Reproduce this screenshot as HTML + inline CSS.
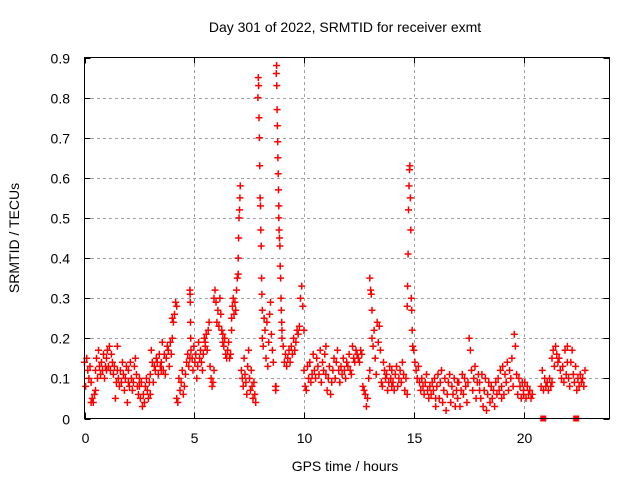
<!DOCTYPE html>
<html><head><meta charset="utf-8"><style>
html,body{margin:0;padding:0;background:#fff}
svg{display:block;font-family:"Liberation Sans",sans-serif}
</style></head><body>
<svg id="chart" width="640" height="480" viewBox="0 0 640 480">
<rect width="640" height="480" fill="#fff"/>
<text x="345" y="32" font-size="14" text-anchor="middle">Day 301 of 2022, SRMTID for receiver exmt</text>
<text transform="translate(19,238) rotate(-90)" font-size="14" text-anchor="middle">SRMTID / TECUs</text>
<text x="345" y="471" font-size="14" text-anchor="middle">GPS time / hours</text>
<g id="grid"></g>
<g id="ticks"></g>
<g id="marks"></g>
<rect x="84.5" y="57.5" width="525" height="361" fill="none" stroke="#000" stroke-width="1"/>
</svg>
<script>
const xTicks=[0,5,10,15,20];
const yTicks=[0,0.1,0.2,0.3,0.4,0.5,0.6,0.7,0.8,0.9];
const yTickLabels=["0","0.1","0.2","0.3","0.4","0.5","0.6","0.7","0.8","0.9"];
const segStarts=[0,0.3,0.5,1.0,1.5,2.0,2.5,3.0,3.5,4.0,4.2,4.5,4.8,4.9,5.5,5.9,6.3,6.7,7.0,7.15,7.9,8.1,8.7,8.85,9.0,10,11,12,13,13.1,14,14.7,15,16,17,18,19,20,20.8,21.3,22.0];
const segEnds=[0.3,0.5,1.0,1.5,2.0,2.5,3.0,3.5,4.0,4.2,4.5,4.8,4.85,5.5,5.9,6.3,6.7,7.0,7.1,7.8,8.1,8.6,8.85,9.0,10,11,12,13,13.1,14,14.7,14.95,16,17,18,19,20,20.4,21.3,22.0,22.8];
const segValues=[
[0.14,0.08,0.15,0.12,0.10,0.13,0.09],
[0.04,0.05,0.04,0.06,0.07],
[0.12,0.15,0.10,0.17,0.13,0.11,0.14,0.12,0.16,0.10,0.13,0.12],
[0.15,0.17,0.13,0.18,0.12,0.16,0.14,0.11,0.13,0.05,0.09,0.12],
[0.18,0.10,0.08,0.12,0.09,0.14,0.11,0.07,0.10,0.13,0.04,0.09],
[0.12,0.08,0.14,0.10,0.07,0.09,0.13,0.15,0.11,0.08,0.06,0.10],
[0.08,0.05,0.09,0.03,0.06,0.04,0.08,0.10,0.07,0.05,0.09,0.06],
[0.11,0.17,0.14,0.09,0.13,0.12,0.15,0.14,0.11,0.16,0.13,0.12],
[0.14,0.19,0.12,0.16,0.11,0.15,0.18,0.17,0.13,0.19,0.16,0.20],
[0.25,0.24,0.26,0.29,0.28],
[0.05,0.04,0.10,0.07,0.09,0.12,0.06],
[0.06,0.08,0.11,0.14,0.16,0.13,0.15],
[0.32,0.31,0.29,0.24,0.20,0.17],
[0.15,0.12,0.18,0.14,0.16,0.10,0.13,0.19,0.15,0.17,0.14,0.12,0.16,0.20,0.18],
[0.19,0.21,0.17,0.22,0.24,0.13,0.10,0.08,0.09,0.12],
[0.30,0.32,0.29,0.24,0.27,0.23,0.30,0.26,0.22,0.19],
[0.21,0.18,0.20,0.16,0.15,0.17,0.19,0.15,0.16,0.22],
[0.25,0.28,0.30,0.26,0.29,0.27,0.32,0.35,0.36],
[0.40,0.45,0.50,0.52,0.55,0.58],
[0.12,0.10,0.08,0.15,0.11,0.09,0.06,0.13,0.17,0.10,0.07,0.12,0.08,0.05,0.09,0.06,0.04],
[0.80,0.85,0.83,0.75,0.70,0.63,0.55,0.53,0.47,0.43,0.35,0.31,0.27],
[0.20,0.18,0.25,0.22,0.15,0.24,0.13,0.19,0.26,0.29,0.21,0.17,0.14],
[0.08,0.07,0.08,0.86,0.88,0.83,0.77,0.73,0.69,0.65,0.61,0.57,0.53],
[0.50,0.47,0.45,0.43,0.38,0.35,0.30,0.27,0.24,0.22],
[0.20,0.18,0.14,0.16,0.13,0.15,0.17,0.14,0.18,0.16,0.20,0.17,0.19,0.22,0.21,0.23,0.30,0.33,0.28,0.22],
[0.12,0.08,0.07,0.13,0.10,0.14,0.09,0.11,0.16,0.12,0.10,0.15,0.13,0.11,0.17,0.09,0.14,0.12,0.16,0.18],
[0.11,0.07,0.10,0.13,0.06,0.09,0.12,0.15,0.10,0.14,0.17,0.12,0.09,0.13,0.11,0.15,0.12,0.10,0.14,0.13],
[0.13,0.16,0.12,0.11,0.18,0.15,0.14,0.17,0.16,0.15,0.14,0.17,0.16,0.08,0.07,0.06,0.03,0.05,0.10,0.12],
[0.35,0.32,0.31,0.27],
[0.20,0.18,0.22,0.15,0.11,0.24,0.19,0.23,0.17,0.09,0.08,0.14,0.12,0.10,0.11,0.07,0.09,0.13,0.10,0.08],
[0.12,0.09,0.07,0.11,0.13,0.08,0.10,0.12,0.09,0.14,0.11,0.07,0.10,0.06],
[0.28,0.33,0.41,0.52,0.58,0.62,0.63,0.55,0.47,0.30,0.27,0.22,0.18],
[0.17,0.14,0.12,0.10,0.13,0.09,0.07,0.10,0.08,0.06,0.09,0.11,0.07,0.05,0.08,0.06,0.09,0.07,0.10,0.05],
[0.03,0.08,0.11,0.05,0.09,0.12,0.04,0.07,0.10,0.02,0.06,0.09,0.11,0.04,0.08,0.06,0.10,0.03,0.07,0.09],
[0.05,0.09,0.03,0.07,0.11,0.06,0.10,0.08,0.04,0.09,0.20,0.17,0.12,0.07,0.10,0.13,0.05,0.09,0.11,0.07],
[0.09,0.05,0.11,0.03,0.07,0.10,0.02,0.06,0.09,0.04,0.08,0.05,0.07,0.03,0.09,0.06,0.10,0.07,0.12,0.05],
[0.08,0.13,0.06,0.11,0.09,0.14,0.07,0.12,0.10,0.15,0.08,0.21,0.18,0.11,0.06,0.10,0.08,0.05,0.09,0.07],
[0.06,0.09,0.05,0.08,0.06,0.07,0.05,0.06],
[0.08,0.12,0.07,0.10,0.08,0.09,0.07,0.10,0.08,0.09],
[0.15,0.17,0.13,0.18,0.16,0.14,0.15,0.12,0.10,0.13,0.09,0.17,0.11,0.14],
[0.18,0.10,0.08,0.14,0.17,0.11,0.09,0.13,0.07,0.10,0.08,0.11,0.09,0.10,0.08,0.12]
];
const zeroTimes=[20.9,22.4];

const NS="http://www.w3.org/2000/svg";
function xScale(h){return 84.5+h*21.95;}
function yScale(v){return 418.5-v*(361/0.9);}
function mk(tag,attrs,parent){const e=document.createElementNS(NS,tag);for(const k in attrs)e.setAttribute(k,attrs[k]);parent.appendChild(e);return e;}
const grid=document.getElementById('grid'),ticks=document.getElementById('ticks'),marks=document.getElementById('marks');
xTicks.forEach(t=>{
  const x=Math.round(xScale(t))+0.5;
  if(t>0){const g=mk('line',{x1:x,x2:x,y1:58,y2:418,stroke:'#a0a0a0','stroke-dasharray':'3,3'},grid);
  
  }
  const a=mk('path',{d:`M${x} 418.5v-6M${x} 57.5v6`,stroke:'#000'},ticks);
  
  
  const l=mk('text',{x:x,y:443,'font-size':14,'text-anchor':'middle'},ticks);l.textContent=t;
  
  
});
yTicks.forEach((t,i)=>{
  const y=Math.round(yScale(t))+0.5;
  if(i>0&&i<yTicks.length-1){const g=mk('line',{x1:85,x2:609,y1:y,y2:y,stroke:'#a0a0a0','stroke-dasharray':'3,3'},grid);
  
  }
  const a=mk('path',{d:`M84.5 ${y}h6M609.5 ${y}h-6`,stroke:'#000'},ticks);
  
  
  const l=mk('text',{x:70,y:y+5,'font-size':14,'text-anchor':'end'},ticks);l.textContent=yTickLabels[i];
  
  
});
let d='';
segValues.forEach((vals,s)=>{
  const n=vals.length,t0=segStarts[s],t1=segEnds[s];
  vals.forEach((v,i)=>{
    const h=n>1?t0+(t1-t0)*i/(n-1):t0;
    const x=xScale(h),y=yScale(v);
    d+=`M${(x-3.5).toFixed(1)} ${y.toFixed(1)}h7M${x.toFixed(1)} ${(y-3.5).toFixed(1)}v7`;
  });
});
const p=mk('path',{d:d,stroke:'#ff0000','stroke-width':1.5,fill:'none'},marks);


zeroTimes.forEach(h=>{
  const r=mk('rect',{x:xScale(h)-3,y:yScale(0)-3,width:6,height:6,fill:'#ff0000'},marks);
  
  
});
</script>
</body></html>
